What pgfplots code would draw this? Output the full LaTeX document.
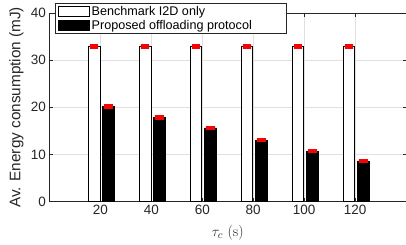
\documentclass[border=0pt]{standalone}
\usepackage{fontspec}
\setmainfont{Liberation Sans}
\newfontfamily\lmr{Latin Modern Roman}
\usepackage{pgfplots}
\usepackage{pgfplotstable}
\pgfplotsset{compat=1.18}
\definecolor{axgray}{gray}{0.15}
\definecolor{gridgray}{gray}{0.88}

\pgfplotstableread{
x y
20 32.9
40 32.9
60 32.9
80 32.9
100 32.9
120 32.9
}\benchmark

\pgfplotstableread{
x y
20 20.2
40 17.8
60 15.6
80 13.0
100 10.7
120 8.6
}\proposed

\begin{document}
\begin{tikzpicture}
\begin{axis}[
  scale only axis, width=356.5bp, height=188.5bp,
  xmin=0, xmax=140, ymin=0, ymax=40,
  xtick={20,40,60,80,100,120}, ytick={0,10,20,30,40},
  tick align=inside, tick pos=both,
  major tick length=3.5bp,
  axis line style={axgray, line width=0.6bp},
  every tick/.style={axgray, line width=0.6bp},
  grid=major, grid style={gridgray, line width=0.6bp},
  tick label style={font=\fontsize{13.5bp}{16bp}\selectfont, text=axgray},
  /pgf/number format/assume math mode=true,
  ylabel={Av. Energy consumption (mJ)},
  ylabel style={font=\fontsize{15.3bp}{18bp}\selectfont, text=axgray, at={(axis description cs:-0.093,0.5)}, anchor=center},
  xlabel={\lmr$\tau_c$ (s)},
  xlabel style={font=\fontsize{15bp}{18bp}\selectfont, text=axgray, at={(axis description cs:0.5,-0.164)}, anchor=center},
  legend cell align=left,
  legend style={at={(axis description cs:0.0154,1.053)}, anchor=north west, draw=axgray, line width=0.6bp, fill=white,
    font=\fontsize{12.6bp}{14bp}\selectfont, inner xsep=3bp, inner ysep=1bp, row sep=-1bp},
]
\addplot[ybar, bar width=4.55, bar shift=-2.45, fill=white, draw=black, line width=0.8bp,
  legend image code/.code={\draw[fill=white, draw=black, line width=0.8bp] (0bp,-4.8bp) rectangle (30.6bp,4.8bp);}]
  table[x=x, y=y] {\benchmark};
\addlegendentry{Benchmark I2D only}
\addplot[ybar, bar width=4.55, bar shift=3.2, fill=black, draw=black, line width=0.8bp,
  legend image code/.code={\draw[fill=black, draw=black, line width=0.8bp] (0bp,-4.8bp) rectangle (30.6bp,4.8bp);}]
  table[x=x, y=y] {\proposed};
\addlegendentry{Proposed offloading protocol\hspace*{29bp}}
\addplot[only marks, mark=-, mark size=4.3bp, mark options={red, line width=4.5bp}, forget plot]
  table[x expr=\thisrow{x}-2.45, y=y] {\benchmark};
\addplot[only marks, mark=-, mark size=4.3bp, mark options={red, line width=4.5bp}, forget plot]
  table[x expr=\thisrow{x}+3.2, y=y] {\proposed};
\coordinate (bl) at (rel axis cs:0,0);
\coordinate (tr) at (rel axis cs:1,1);
\end{axis}
\pgfresetboundingbox
\path ([shift={(-49.5bp,-43.5bp)}]bl) rectangle ([shift={(0bp,13bp)}]tr);
\end{tikzpicture}
\end{document}
